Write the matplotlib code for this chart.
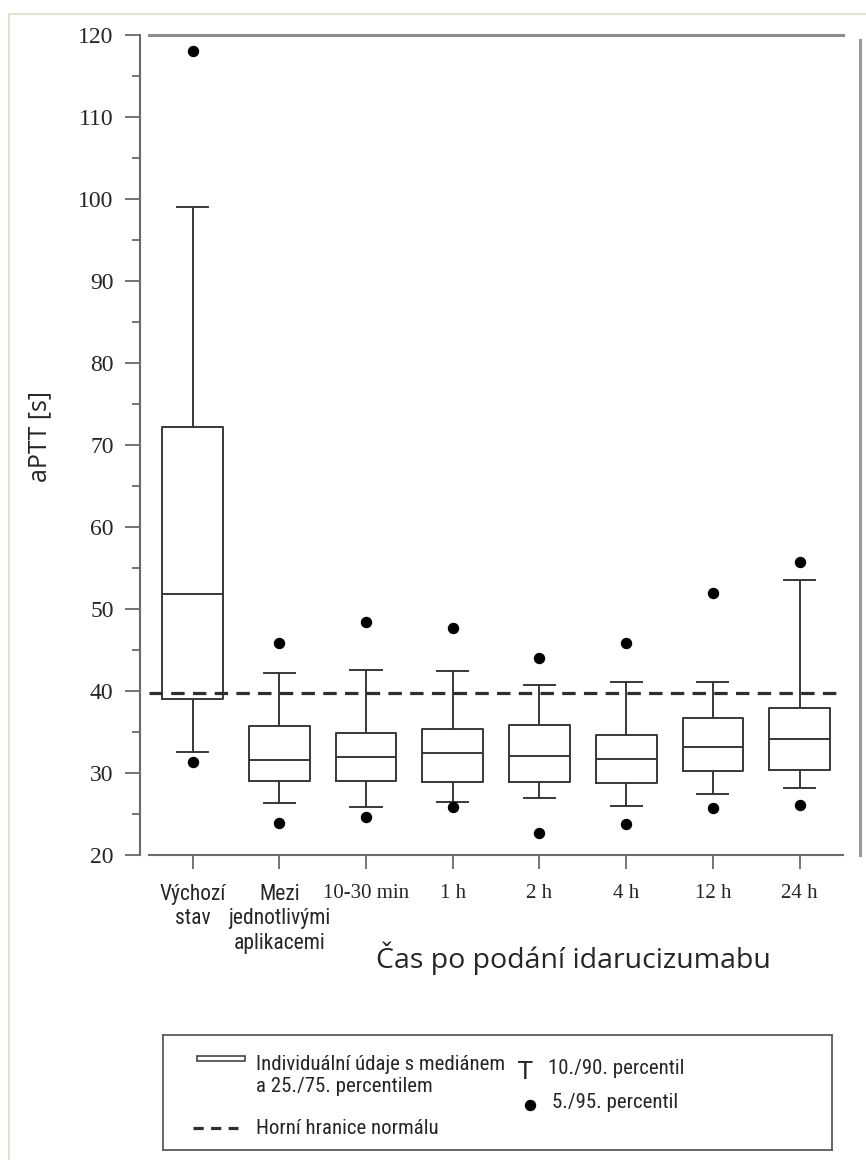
import os
import matplotlib
matplotlib.use("Agg")
import matplotlib.pyplot as plt
from matplotlib import font_manager as fm
from matplotlib.patches import Rectangle
from matplotlib.ticker import MultipleLocator

# aPTT values (percentiles per time point)
labels = ["Výchozí\nstav", "Mezi\njednotlivými\naplikacemi", "10-30 min",
          "1 h", "2 h", "4 h", "12 h", "24 h"]
p5 = [31.4, 23.9, 24.6, 25.9, 22.7, 23.8, 25.7, 26.1]
p10 = [32.6, 26.3, 25.9, 26.5, 27.0, 26.0, 27.5, 28.2]
p25 = [39.0, 29.0, 29.0, 28.9, 28.9, 28.8, 30.2, 30.4]
p50 = [51.8, 31.6, 31.9, 32.5, 32.1, 31.7, 33.2, 34.1]
p75 = [72.2, 35.7, 34.9, 35.4, 35.9, 34.6, 36.7, 37.9]
p90 = [99.0, 42.2, 42.6, 42.5, 40.7, 41.1, 41.1, 53.5]
p95 = [118.0, 45.8, 48.4, 47.7, 44.0, 45.8, 52.0, 55.7]
normal_upper = 39.7


# look for a condensed sans face (legend and first tick labels use one)
def find_narrow():
    bad = ["semi", "extra", "ultra", "bold", "italic", "light", "medium", "black",
           "thin", "oblique", "heavy"]
    found = []
    for f in fm.fontManager.ttflist:
        base = os.path.basename(f.fname).lower()
        if "narrow" not in base and "condensed" not in base:
            continue
        if any(b in base for b in bad):
            continue
        found.append(f.fname)
    for key in ["liberationsansnarrow", "robotocondensed", "opensans", "notosans"]:
        for fn in found:
            if key in os.path.basename(fn).lower().replace("_", "").replace("-", ""):
                return fn
    return found[0] if found else None


narrow_file = find_narrow()


def nfont(size):
    if narrow_file:
        return fm.FontProperties(fname=narrow_file, size=size)
    return fm.FontProperties(family="Liberation Sans", size=size * 0.85)


serif = "Liberation Serif"
sans = "Open Sans"
txt_c = "#262626"

W, H = 866, 1160
fig = plt.figure(figsize=(W / 100, H / 100), dpi=100)

# light outer frame of the original figure
fig.patches.append(Rectangle((9 / W, -0.1), 2, 1 - 14 / H + 0.1, fill=False,
                             edgecolor="#e2e2d2", lw=1.5, transform=fig.transFigure))

ax = fig.add_axes([140 / W, (H - 855) / H, 720 / W, 820 / H])

line_c = "#383838"
lw = 1.4
stats = []
for i in range(len(labels)):
    stats.append(dict(med=p50[i], q1=p25[i], q3=p75[i], whislo=p10[i], whishi=p90[i],
                      fliers=[p5[i], p95[i]]))
pos = list(range(len(labels)))
ax.bxp(stats, positions=pos, widths=0.7, capwidths=0.36,
       boxprops=dict(color=line_c, lw=lw),
       whiskerprops=dict(color=line_c, lw=lw),
       capprops=dict(color=line_c, lw=lw),
       medianprops=dict(color=line_c, lw=lw),
       flierprops=dict(marker="o", markerfacecolor="black", markeredgecolor="black",
                       markersize=7.2))

ax.hlines(normal_upper, -0.5, 7.5, colors="#2e2e2e", lw=2.3,
          linestyles=(0, (4.2, 2.6)), zorder=3)

ax.set_xlim(-0.608, 7.697)
ax.set_ylim(20, 120)

for s in ["left", "bottom"]:
    ax.spines[s].set_color("#6a6a6a")
    ax.spines[s].set_linewidth(1.5)
ax.spines["top"].set_color("#8c8c8c")
ax.spines["top"].set_linewidth(2.2)
ax.spines["right"].set_color("#9a9a9a")
ax.spines["right"].set_linewidth(2.2)
ax.spines["left"].set_bounds(20, 120)
ax.spines["bottom"].set_bounds(-0.5, 7.5)
ax.spines["top"].set_bounds(-0.5, 7.5)
ax.spines["right"].set_bounds(20, 119.4)

ax.yaxis.set_major_locator(MultipleLocator(10))
ax.yaxis.set_minor_locator(MultipleLocator(5))
ax.tick_params(axis="y", which="major", direction="out", length=11, width=1.3,
               color="#6a6a6a", pad=8, labelsize=17, labelcolor=txt_c)
ax.tick_params(axis="y", which="minor", direction="out", length=5.5, width=1.3,
               color="#6a6a6a")
ax.tick_params(axis="x", direction="out", length=10, width=1.3, color="#6a6a6a",
               pad=11, labelsize=15, labelcolor=txt_c)
for t in ax.get_yticklabels():
    t.set_fontfamily(serif)

ax.set_xticks(pos)
ax.set_xticklabels(labels)
for i, t in enumerate(ax.get_xticklabels()):
    if i < 2:
        t.set_fontproperties(nfont(15.5))
        t.set_linespacing(1.2)
    else:
        t.set_fontfamily(serif)
        t.set_fontsize(15)

fig.text(40 / W, 1 - 436 / H, "aPTT [s]", rotation=90, ha="center", va="center",
         fontsize=18, family=sans, color=txt_c)
fig.text(573 / W, 1 - 958 / H, "Čas po podání idarucizumabu", ha="center", va="center",
         fontsize=20.5, family=sans, color=txt_c)

# legend drawn in pixel coordinates
lax = fig.add_axes([163 / W, 1 - 1150 / H, (832 - 163) / W, (1150 - 1035) / H])
lax.set_xlim(163, 832)
lax.set_ylim(1150, 1035)
lax.set_xticks([])
lax.set_yticks([])
for s in lax.spines.values():
    s.set_color("#5a5a5a")
    s.set_linewidth(1.3)

lax.add_patch(Rectangle((197, 1055.5), 48, 5.5, facecolor="white", edgecolor="#444444", lw=1.2))
lax.text(256, 1075, "Individuální údaje s mediánem\na 25./75. percentilem", va="center",
         ha="left", fontproperties=nfont(15), linespacing=1.2, color=txt_c)
lax.text(525, 1072, "T", ha="center", va="center", fontsize=17, family="DejaVu Sans",
         color=txt_c)
lax.text(548, 1068, "10./90. percentil", ha="left", va="center",
         fontproperties=nfont(15), color=txt_c)
lax.plot([530], [1105], "o", color="black", markersize=7.2)
lax.text(552, 1103, "5./95. percentil", ha="left", va="center",
         fontproperties=nfont(15), color=txt_c)
lax.plot([193, 238], [1128, 1128], color="#2e2e2e", lw=2.3, linestyle=(0, (3.2, 2.3)))
lax.text(256, 1128, "Horní hranice normálu", ha="left", va="center",
         fontproperties=nfont(15), color=txt_c)

fig.savefig("out.png", dpi=100)
